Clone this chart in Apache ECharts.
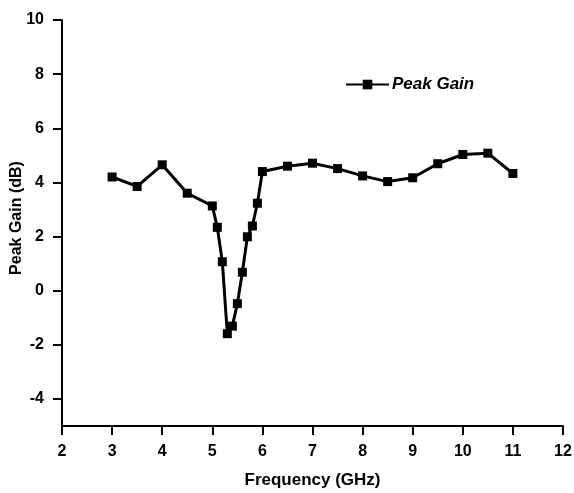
<!DOCTYPE html>
<html>
<head>
<meta charset="utf-8">
<script src="https://cdn.jsdelivr.net/npm/echarts@6/dist/echarts.min.js"></script>
<style>
  html, body { margin: 0; padding: 0; background: #fff; }
  #chart { width: 574px; height: 493px; }
</style>
</head>
<body>
<div id="chart"></div>
<script>
// 频率 (GHz) 与峰值增益 (dB)
const freq = [3, 3.5, 4, 4.5, 5, 5.1, 5.2, 5.3, 5.4, 5.5, 5.6, 5.7, 5.8, 5.9, 6, 6.5, 7, 7.5, 8, 8.5, 9, 9.5, 10, 10.5, 11]
const peakGain = [4.2, 3.85, 4.65, 3.6, 3.13, 2.34, 1.07, -1.59, -1.31, -0.48, 0.68, 1.99, 2.39, 3.23, 4.4, 4.6, 4.71, 4.51, 4.24, 4.03, 4.17, 4.69, 5.03, 5.08, 4.33]
const yTicks = [-4, -2, 0, 2, 4, 6, 8, 10]

const font = 'Liberation Sans, Arial, sans-serif'
const myChart = echarts.init(document.getElementById('chart'))

let option = {
  animation: false,
  grid: { left: 62, right: 11, top: 20, bottom: 67, containLabel: false, outerBoundsMode: 'none' },
  legend: {
    left: 340,
    top: 71,
    itemWidth: 43,
    itemHeight: 12,
    textStyle: { fontFamily: font, fontSize: 17, fontWeight: 'bold', fontStyle: 'italic', color: '#000', padding: [0, 0, 0, -2] },
    data: ['Peak Gain'],
  },
  xAxis: {
    type: 'value',
    min: 2,
    max: 12,
    interval: 1,
    name: 'Frequency (GHz)',
    nameLocation: 'middle',
    nameGap: 46,
    nameMoveOverlap: false,
    nameTextStyle: { fontFamily: font, fontSize: 17, fontWeight: 'bold', color: '#000' },
    axisLine: { onZero: false, lineStyle: { color: '#000', width: 2 } },
    axisTick: { length: 9, lineStyle: { color: '#000', width: 2 } },
    axisLabel: { margin: 18, fontFamily: font, fontSize: 16, fontWeight: 'bold', color: '#000' },
    splitLine: { show: false },
  },
  yAxis: {
    type: 'value',
    min: -5,
    max: 10,
    name: 'Peak Gain (dB)',
    nameLocation: 'middle',
    nameGap: 37,
    nameMoveOverlap: false,
    nameTextStyle: { fontFamily: font, fontSize: 16, fontWeight: 'bold', color: '#000', padding: [0, 0, 0, 10] },
    axisLine: { show: true, onZero: false, lineStyle: { color: '#000', width: 2 } },
    axisTick: { show: true, length: 9, customValues: yTicks, lineStyle: { color: '#000', width: 2 } },
    axisLabel: { margin: 18, customValues: yTicks, fontFamily: font, fontSize: 16, fontWeight: 'bold', color: '#000' },
    splitLine: { show: false },
  },
  series: [
    {
      name: 'Peak Gain',
      type: 'line',
      data: freq.map((f, i) => [f, peakGain[i]]),
      symbol: 'rect',
      symbolSize: 9,
      itemStyle: { color: '#000' },
      lineStyle: { color: '#000', width: 3 },
    },
  ],
}
myChart.setOption(option)
</script>
</body>
</html>
